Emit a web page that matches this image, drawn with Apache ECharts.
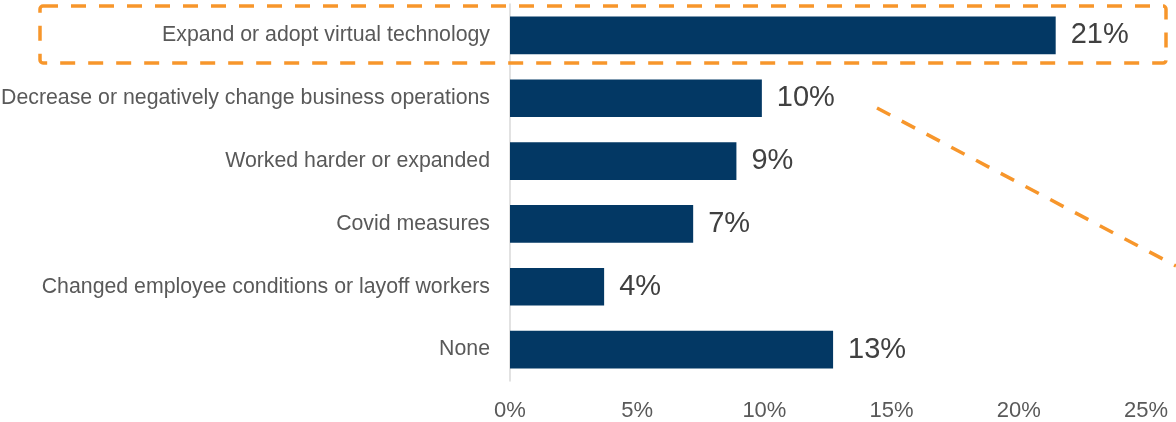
<!DOCTYPE html>
<html>
<head>
<meta charset="utf-8">
<script src="https://cdn.jsdelivr.net/npm/echarts@6/dist/echarts.min.js"></script>
<style>
html,body{margin:0;padding:0;background:#fff;}
#chart{width:1176px;height:422px;}
</style>
</head>
<body>
<div id="chart"></div>
<script>
const categories = [
  "Expand or adopt virtual technology",
  "Decrease or negatively change business operations",
  "Worked harder or expanded",
  "Covid measures",
  "Changed employee conditions or layoff workers",
  "None"
];
const values = [21.45, 9.9, 8.9, 7.2, 3.7, 12.7];
const xTicks = [0, 5, 10, 15, 20, 25];

const chart = echarts.init(document.getElementById('chart'), null, {renderer: 'canvas'});
const FONT = '"Liberation Sans", Arial, sans-serif';
const orange = '#F7962B';

chart.setOption({
  animation: false,
  grid: {left: 510, right: 30, top: 4, bottom: 41, containLabel: false, outerBoundsMode: 'none'},
  xAxis: {
    type: 'value',
    min: xTicks[0],
    max: xTicks[xTicks.length - 1],
    interval: 5,
    axisLine: {show: false},
    axisTick: {show: false},
    splitLine: {show: false},
    axisLabel: {
      formatter: v => v + '%',
      color: '#595959',
      fontFamily: FONT,
      fontSize: 22,
      margin: 19
    }
  },
  yAxis: {
    type: 'category',
    data: categories,
    inverse: true,
    axisLine: {show: true, lineStyle: {color: '#D9D9D9', width: 1.5}},
    axisTick: {show: false},
    axisLabel: {
      color: '#595959',
      fontFamily: FONT,
      fontSize: 21.3,
      margin: 20
    }
  },
  series: [{
    type: 'bar',
    data: values,
    barWidth: '60%',
    itemStyle: {color: '#033864'},
    label: {
      show: true,
      position: 'right',
      distance: 15,
      formatter: p => Math.round(p.value) + '%',
      color: '#404040',
      fontFamily: FONT,
      fontSize: 29
    }
  }],
  graphic: [
    {
      type: 'rect',
      shape: {x: 40, y: 6, width: 1126, height: 57, r: 3},
      style: {fill: 'none', stroke: orange, lineWidth: 3.5, lineDash: [15, 13]},
      z: 100
    },
    {
      type: 'line',
      shape: {x1: 877, y1: 108, x2: 1176, y2: 266},
      style: {stroke: orange, lineWidth: 3.5, lineDash: [15, 13]},
      z: 100
    }
  ]
});
</script>
</body>
</html>
